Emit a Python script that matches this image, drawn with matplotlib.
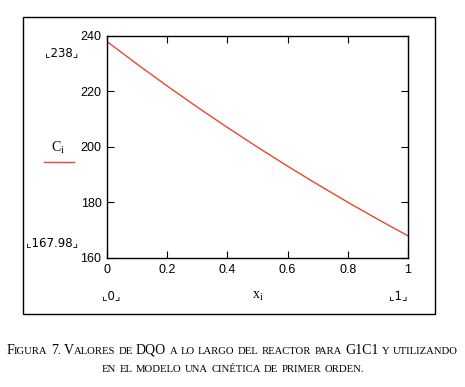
import numpy as np
import matplotlib
matplotlib.use("Agg")
import matplotlib.pyplot as plt
from matplotlib.patches import Rectangle

# Valores (DQO a lo largo del reactor)
x_vals = [0.0, 0.1, 0.2, 0.3, 0.4, 0.5, 0.6, 0.7, 0.8, 0.9, 1.0]
c_vals = [238.0, 229.85, 221.98, 214.38, 207.04, 199.95, 193.10, 186.49, 180.10, 173.93, 167.98]
x_ticks = [0, 0.2, 0.4, 0.6, 0.8, 1]
x_tick_labels = ["0", "0.2", "0.4", "0.6", "0.8", "1"]
y_ticks = [160, 180, 200, 220, 240]

W, H = 465, 387
fig = plt.figure(figsize=(W / 100, H / 100), dpi=100)
fig.patch.set_facecolor("white")

def fx(px):
    return px / W

def fy(py):
    return 1 - py / H

# marco exterior tipo Mathcad
fig.add_artist(Rectangle((fx(23), fy(314)), fx(435) - fx(23), fy(17) - fy(314),
                         transform=fig.transFigure, fill=False, lw=1.0, ec="black"))

ax = fig.add_axes([fx(107), fy(258), fx(408) - fx(107), fy(36) - fy(258)])
ax.plot(x_vals, c_vals, color="#e8472f", lw=1.0)
ax.set_xlim(0, 1)
ax.set_ylim(160, 240)
ax.set_xticks(x_ticks)
ax.set_xticklabels(x_tick_labels)
ax.set_yticks(y_ticks)
ax.tick_params(direction="in", length=5, width=0.8, top=True, right=True,
               labelsize=9, pad=4)
for lab in ax.get_xticklabels() + ax.get_yticklabels():
    lab.set_family("Liberation Sans")
for s in ax.spines.values():
    s.set_linewidth(1.0)

tf = dict(family="DejaVu Sans", fontsize=8.5, color="black")
fig.text(fx(62), fy(53), "⌞238⌟", ha="center", va="center", **tf)
fig.text(fx(52), fy(243), "⌞167.98⌟", ha="center", va="center", **tf)
fig.text(fx(111), fy(296), "⌞0⌟", ha="center", va="center", **tf)
fig.text(fx(398), fy(296), "⌞1⌟", ha="center", va="center", **tf)
fig.text(fx(58), fy(148), r"$\mathregular{C_i}$", ha="center", va="center",
         family="Liberation Serif", fontsize=10)
fig.text(fx(258), fy(296), r"$\mathregular{x_i}$", ha="center", va="center",
         family="Liberation Serif", fontsize=10)
fig.add_artist(plt.Line2D([fx(44), fx(74)], [fy(162), fy(162)],
                          transform=fig.transFigure, color="#e8472f", lw=1.0))

# pie de figura en versalitas (simulado con dos tamaños)
renderer = fig.canvas.get_renderer()

def small_caps_line(text, y_px, center_px, big=10.0, small=7.7):
    parts = []
    for word in text.split(" "):
        segs = []
        cur, cur_big = "", None
        for ch in word:
            is_big = not (ch.islower() or ch == ".")
            if cur_big is None or is_big == cur_big:
                cur += ch
            else:
                segs.append((cur, cur_big))
                cur = ch
            cur_big = is_big
        if cur:
            segs.append((cur, cur_big))
        parts.append(segs)
    arts = []
    x = 0.0
    for i, segs in enumerate(parts):
        if i > 0:
            x += 3.3
        for s, b in segs:
            t = fig.text(0, 0, s.upper(), family="Liberation Serif",
                         fontsize=big if b else small)
            w = t.get_window_extent(renderer).width
            arts.append((t, x))
            x += w
    x0 = center_px - x / 2
    for t, off in arts:
        t.set_position((fx(x0 + off), fy(y_px)))
        t.set_va("baseline")

small_caps_line("Figura 7. Valores de DQO a lo largo del reactor para G1C1 y utilizando",
                354, 232)
small_caps_line("en el modelo una cinética de primer orden.", 372, 233)

fig.savefig("out.png", dpi=100)
